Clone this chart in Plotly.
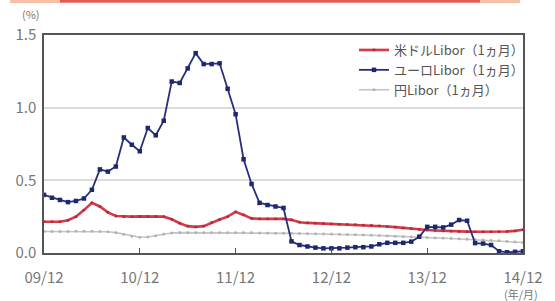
import plotly.graph_objects as go

months = list(range(61))  # 0 = 2009/12 ... 60 = 2014/12

usd = [0.215, 0.215, 0.215, 0.225, 0.250, 0.295, 0.345, 0.320, 0.280, 0.255,
       0.250, 0.250, 0.252, 0.252, 0.252, 0.250, 0.232, 0.205, 0.185, 0.180,
       0.185, 0.210, 0.230, 0.250, 0.283, 0.262, 0.238, 0.235, 0.235, 0.235,
       0.235, 0.228, 0.212, 0.207, 0.205, 0.203, 0.200, 0.198, 0.196, 0.195,
       0.192, 0.190, 0.186, 0.182, 0.178, 0.172, 0.168, 0.162, 0.158, 0.155,
       0.152, 0.150, 0.148, 0.147, 0.146, 0.146, 0.146, 0.147, 0.148, 0.152,
       0.160]

eur = [0.400, 0.380, 0.365, 0.350, 0.358, 0.375, 0.435, 0.575, 0.560, 0.595,
       0.795, 0.745, 0.700, 0.860, 0.810, 0.910, 1.180, 1.170, 1.270, 1.375,
       1.300, 1.300, 1.305, 1.130, 0.955, 0.645, 0.475, 0.345, 0.330, 0.320,
       0.310, 0.080, 0.055, 0.045, 0.037, 0.032, 0.032, 0.032, 0.037, 0.040,
       0.040, 0.045, 0.060, 0.070, 0.070, 0.070, 0.078, 0.112, 0.180, 0.180,
       0.176, 0.195, 0.227, 0.222, 0.068, 0.065, 0.055, 0.012, 0.005, 0.008,
       0.012]

jpy = [0.148, 0.148, 0.148, 0.148, 0.150, 0.150, 0.150, 0.148, 0.146, 0.140,
       0.128, 0.115, 0.108, 0.110, 0.118, 0.130, 0.138, 0.140, 0.140, 0.140,
       0.140, 0.140, 0.140, 0.140, 0.140, 0.140, 0.140, 0.138, 0.137, 0.136,
       0.136, 0.135, 0.134, 0.133, 0.132, 0.131, 0.130, 0.129, 0.127, 0.126,
       0.124, 0.122, 0.120, 0.118, 0.115, 0.113, 0.110, 0.108, 0.106, 0.104,
       0.102, 0.100, 0.097, 0.095, 0.092, 0.090, 0.087, 0.084, 0.080, 0.076,
       0.072]

tick_vals = [0, 12, 24, 36, 48, 60]
tick_text = ["09/12", "10/12", "11/12", "12/12", "13/12", "14/12"]
y_ticks = [0.0, 0.5, 1.0, 1.5]
y_text = ["0.0", "0.5", "1.0", "1.5"]

names = ["米ドルLibor（1ヵ月）", "ユーロLibor（1ヵ月）", "円Libor（1ヵ月）"]

FONT = "Noto Sans CJK JP"

fig = go.Figure()
fig.add_trace(go.Scatter(x=months, y=jpy, name=names[2], mode="lines+markers",
                         line=dict(color="#c4c4c4", width=1.6),
                         marker=dict(size=2.5, color="#b0b0b0", symbol="square"),
                         legendrank=3))
fig.add_trace(go.Scatter(x=months, y=usd, name=names[0], mode="lines+markers",
                         line=dict(color="#d63a46", width=2.6),
                         marker=dict(size=2.5, color="#b02a3a", symbol="square"),
                         legendrank=1))
fig.add_trace(go.Scatter(x=months, y=eur, name=names[1], mode="lines+markers",
                         line=dict(color="#26307a", width=1.8),
                         marker=dict(size=4.5, color="#1e2870", symbol="square"),
                         legendrank=2))

L, R, T, B = 44, 32, 35, 48
W, H = 555, 301
pw, ph = W - L - R, H - T - B

def px_x(x):
    return (x - L) / pw

def px_y(y):
    return (H - B - y) / ph

fig.update_layout(
    width=W, height=H,
    margin=dict(l=L, r=R, t=T, b=B, autoexpand=False),
    paper_bgcolor="white", plot_bgcolor="white",
    font=dict(family=FONT, color="#777777", size=14),
    showlegend=True,
    legend=dict(x=px_x(354), y=px_y(35), xanchor="left", yanchor="top",
                bgcolor="rgba(0,0,0,0)", font=dict(size=13, color="#555555"),
                traceorder="normal", tracegroupgap=0, itemwidth=30),
    xaxis=dict(range=[0, 60], tickvals=tick_vals, ticktext=tick_text,
               showgrid=False, zeroline=False, showline=True, mirror=True,
               linecolor="#555555", linewidth=1.5, ticks="inside", ticklen=5,
               tickcolor="#555555", tickfont=dict(size=15, color="#777777"),
               ticklabelstandoff=10),
    yaxis=dict(range=[0, 1.5], tickvals=y_ticks, ticktext=y_text,
               showgrid=True, gridcolor="#dcdcdc", gridwidth=1.5,
               zeroline=False, showline=True, mirror=True,
               linecolor="#555555", linewidth=1.5, ticks="",
               tickfont=dict(size=15, color="#777777"), ticklabelstandoff=3),
)

fig.add_annotation(x=px_x(31), y=px_y(14), xref="paper", yref="paper",
                   xanchor="center", yanchor="middle",
                   text="(%)", showarrow=False, font=dict(size=11, color="#777777"))
fig.add_annotation(x=px_x(521), y=px_y(294), xref="paper", yref="paper",
                   xanchor="center", yanchor="middle",
                   text="(年/月)", showarrow=False, font=dict(size=11, color="#777777"))

# decorative bar at top
fig.add_shape(type="rect", xref="paper", yref="paper",
              x0=px_x(10), x1=px_x(520), y0=px_y(3), y1=px_y(0),
              fillcolor="rgba(240,150,110,0.6)", line=dict(width=0), layer="above")
fig.add_shape(type="rect", xref="paper", yref="paper",
              x0=px_x(60), x1=px_x(480), y0=px_y(2.5), y1=px_y(0),
              fillcolor="rgba(225,70,70,0.85)", line=dict(width=0), layer="above")

fig.write_html("out.html", config={"displayModeBar": False},
               post_script="document.body.style.margin='0';"
                           "document.body.style.overflow='hidden';")
